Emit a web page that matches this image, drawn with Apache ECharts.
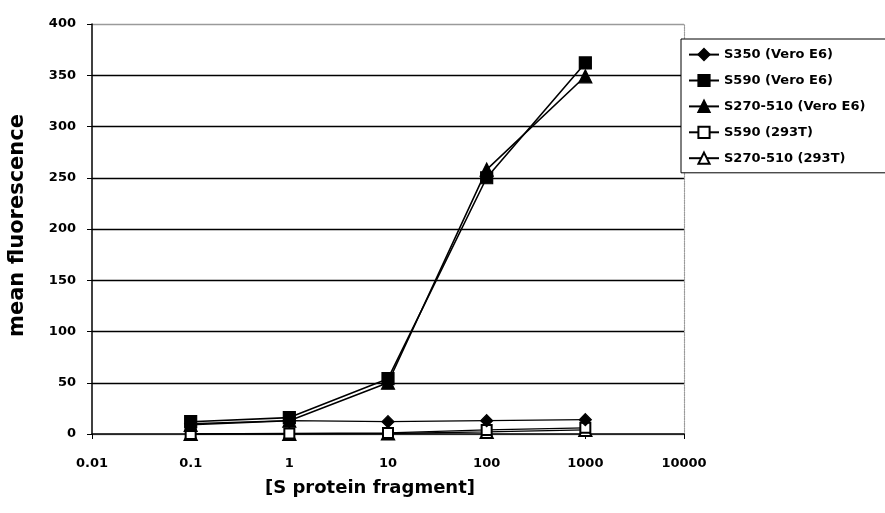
<!DOCTYPE html>
<html>
<head>
<meta charset="utf-8">
<script src="https://cdn.jsdelivr.net/npm/echarts@6/dist/echarts.min.js"></script>
<style>
html,body{margin:0;padding:0;background:#fff;}
#chart{width:885px;height:513px;}
</style>
</head>
<body>
<div id="chart"></div>
<script>
// concentrations of S protein fragment (x, log scale)
const concentrations = [0.1, 1, 10, 100, 1000];
// mean fluorescence per series
const s350Vero   = [10, 13, 12, 13, 14];
const s590Vero   = [12, 16, 54, 250, 362];
const s270Vero   = [9, 13, 50, 258, 349];
const s590_293T  = [0, 0.5, 1, 4, 6];
const s270_293T  = [0, 0, 0.5, 2, 4];
const seriesNames = ['S350 (Vero E6)', 'S590 (Vero E6)', 'S270-510 (Vero E6)', 'S590 (293T)', 'S270-510 (293T)'];
const xTickLabels = ['0.01', '0.1', '1', '10', '100', '1000', '10000'];
const yTicks = [0, 50, 100, 150, 200, 250, 300, 350, 400];

const FONT = 'DejaVu Sans';
const pairs = vals => concentrations.map((c, i) => [c, vals[i]]);

const symbols = ['diamond', 'rect', 'triangle', 'emptyRect', 'emptyTriangle'];
const sizes = [12, 12, 13, 10, 12];
const widths = [1.3, 1.6, 1.6, 1.3, 1.3];
const allVals = [s350Vero, s590Vero, s270Vero, s590_293T, s270_293T];

const series = allVals.map((vals, k) => ({
  name: seriesNames[k],
  type: 'line',
  data: pairs(vals),
  symbol: symbols[k],
  symbolSize: sizes[k],
  showAllSymbol: true,
  lineStyle: {color: '#000', width: widths[k]},
  itemStyle: {color: '#000', borderColor: '#000', borderWidth: 1.2},
  z: 10 - k,
  animation: false
}));

const chart = echarts.init(document.getElementById('chart'), null, {renderer: 'canvas'});
chart.setOption({
  animation: false,
  backgroundColor: '#fff',
  grid: {left: 92, right: 201, top: 24, bottom: 79, containLabel: false},
  xAxis: {
    type: 'log', logBase: 10, min: 0.01, max: 10000,
    axisLine: {show: true, onZero: false, lineStyle: {color: '#000', width: 1.5}},
    axisTick: {show: true, length: 5, lineStyle: {color: '#000'}},
    minorTick: {show: false},
    splitLine: {show: false},
    axisLabel: {
      margin: 23, color: '#000', fontFamily: FONT, fontWeight: 'bold', fontSize: 13,
      formatter: v => xTickLabels[Math.round(Math.log10(v)) + 2]
    }
  },
  yAxis: [{
    type: 'value', min: 0, max: 400, interval: 50,
    axisLine: {show: true, lineStyle: {color: '#000', width: 1.5}},
    axisTick: {show: true, length: 5, lineStyle: {color: '#000'}},
    axisLabel: {margin: 16, color: '#000', fontFamily: FONT, fontWeight: 'bold', fontSize: 13},
    splitLine: {show: true, lineStyle: {
      color: yTicks.map((t, i) => (i === 0 || i === yTicks.length - 1) ? '#9a9a9a' : '#000'),
      width: 1.3
    }}
  }, {
    type: 'value', min: 0, max: 400, interval: 50, position: 'right',
    axisLine: {show: true, lineStyle: {color: '#9a9a9a', width: 1.2, type: 'dotted'}},
    axisTick: {show: false}, axisLabel: {show: false}, splitLine: {show: false}
  }],
  legend: {
    orient: 'vertical', left: 681, top: 39,
    padding: [9, 60, 8, 7],
    itemWidth: 30, itemHeight: 14, itemGap: 12.7,
    backgroundColor: '#fff',
    borderColor: '#000', borderWidth: 1,
    textStyle: {color: '#000', fontFamily: FONT, fontWeight: 'bold', fontSize: 13},
    data: seriesNames
  },
  graphic: [
    {type: 'text', left: 265, top: 479, style: {text: '[S protein fragment]', font: 'bold 18px "DejaVu Sans"', fill: '#000'}},
    {type: 'text', left: 7, top: 114, rotation: Math.PI / 2,
     style: {text: 'mean fluorescence', font: 'bold 21px "DejaVu Sans"', fill: '#000'}}
  ],
  series: series
});
</script>
</body>
</html>
